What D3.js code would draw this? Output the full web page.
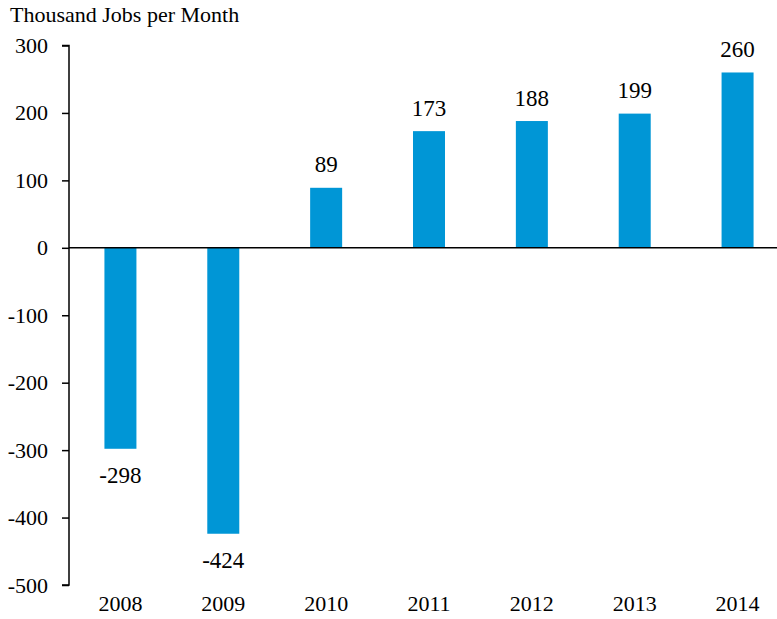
<!DOCTYPE html>
<html><head><meta charset="utf-8">
<script src="https://cdn.jsdelivr.net/npm/d3@7"></script>
<style>body{margin:0;background:#fff}svg{display:block}</style>
</head><body>
<svg id="c" width="777" height="619"></svg>
<script>
const categories = ["2008","2009","2010","2011","2012","2013","2014"];
const values = [-298,-424,89,173,188,199,260];
const yTicks = [-500,-400,-300,-200,-100,0,100,200,300];
const title = "Thousand Jobs per Month";

const svg = d3.select("#c");
const font = "'Liberation Serif','Times New Roman',serif";
const x = d3.scaleBand().domain(categories).range([69, 789]);
const y = d3.scaleLinear().domain([-500,300]).range([585, 45.5]);
const barW = 32;

svg.append("text").attr("x",10).attr("y",22).attr("font-family",font).attr("font-size",22).attr("fill","#000").text(title);

const yAxis = d3.axisLeft(y).tickValues(yTicks).tickSize(7).tickPadding(14).tickFormat(d => String(d));
const ga = svg.append("g").attr("transform","translate(69,0)").call(yAxis);
ga.select(".domain").attr("d","M-7,45.5H0V585H-7").attr("stroke","#000").attr("stroke-width",1.5);
ga.selectAll(".tick line").attr("stroke","#000").attr("stroke-width",1.5);
ga.selectAll(".tick text").attr("font-family",font).attr("font-size",22).attr("fill","#000");

svg.selectAll("rect.bar").data(values).join("rect").attr("class","bar")
  .attr("x",(d,i)=>x(categories[i])+x.bandwidth()/2-barW/2)
  .attr("width",barW)
  .attr("y",d=>y(Math.max(0,d)))
  .attr("height",d=>Math.abs(y(d)-y(0)))
  .attr("fill","#0096D6");

svg.append("line").attr("x1",69).attr("x2",777).attr("y1",y(0)).attr("y2",y(0)).attr("stroke","#000").attr("stroke-width",1.5);

svg.selectAll("text.val").data(values).join("text").attr("class","val")
  .attr("x",(d,i)=>x(categories[i])+x.bandwidth()/2)
  .attr("y",d=> d>=0 ? y(d)-15.5 : y(d)+34)
  .attr("text-anchor","middle").attr("font-family",font).attr("font-size",23).attr("fill","#000")
  .text(d=>String(d));

svg.selectAll("text.cat").data(categories).join("text").attr("class","cat")
  .attr("x",d=>x(d)+x.bandwidth()/2).attr("y",611)
  .attr("text-anchor","middle").attr("font-family",font).attr("font-size",22).attr("fill","#000")
  .text(d=>d);
</script>
</body></html>
